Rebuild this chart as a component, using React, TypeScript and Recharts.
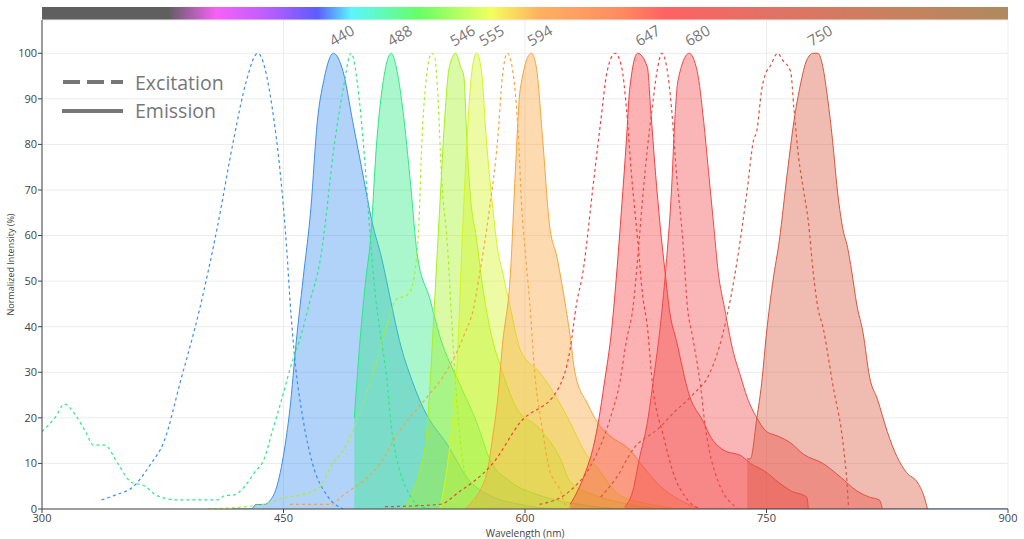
import React from 'react';
import { ComposedChart, Area, Line, Scatter, XAxis, YAxis, CartesianGrid } from 'recharts';

type Pt = [number, number];

// excitation (dashed) and emission (filled) spectra, [wavelength nm, % intensity]
const ex440: Pt[] = [[337, 2], [345, 3], [357, 5], [367, 9.6], [376, 15], [386, 28], [398, 44], [409, 62], [419, 81], [427, 94], [434, 100], [443, 88], [450, 66], [452, 57], [454, 46], [457, 33], [462, 20], [468, 10], [477, 3], [487, 0]];
const em440: Pt[] = [[418, 0], [430, 0], [433, 1], [438, 1], [442, 2], [445, 4], [448, 8], [451, 14], [454, 22], [458, 37], [462, 50], [467, 66], [471, 85], [475, 94], [481, 100], [487, 96], [493, 85], [499, 74], [505, 63], [511, 55], [517, 45], [522, 37], [530, 28], [537, 22], [552, 14], [566, 6], [578, 3], [597, 1], [620, 0], [900, 0]];

const ex488: Pt[] = [[300, 17], [308, 20], [314, 23], [320, 21], [327, 17], [332, 14], [339, 14], [347, 10], [355, 6], [364, 5], [371, 3], [384, 2], [409, 2], [414, 3], [418, 3], [426, 5], [432, 8], [438, 11], [443, 17], [448, 23], [456, 33], [460, 37], [466, 45], [473, 55], [482, 81], [487, 92], [492, 100], [497, 90], [501, 74], [504, 59], [507, 47], [510, 39], [514, 29], [517, 18], [521, 10], [527, 4], [533, 1], [541, 0]];
const em488: Pt[] = [[494, 20], [498, 39], [501, 50], [504, 59], [508, 81], [512, 94], [517, 100], [520, 97], [524, 88], [529, 71], [533, 56], [541, 46], [547, 38], [560, 27], [570, 19], [578, 11], [591, 6], [609, 3], [634, 1], [659, 0]];

const ex546: Pt[] = [[403, 0], [437, 1], [452, 2.6], [460, 3], [473, 5], [479, 9], [489, 14], [504, 28], [514, 40], [520, 46], [527, 47], [530, 49], [534, 62], [536, 81], [538, 92], [542, 100], [544, 99], [546, 90], [548, 74], [552, 57], [555, 38], [558, 22], [562, 9], [566, 3], [572, 1], [578, 0]];
const em546: Pt[] = [[524, 0], [530, 3.5], [535, 9], [539, 17], [541, 27], [543, 40], [547, 66], [550, 85], [553, 97], [557, 100], [560, 97], [562, 95], [564, 80], [566, 69], [570, 59], [574, 48], [578, 40], [586, 30], [595, 22], [608, 18], [622, 11], [628, 6], [647, 2.6], [665, 1], [684, 0]];

const em555: Pt[] = [[547, 0], [553, 13], [558, 33], [561, 59], [564, 81], [567, 96], [570, 100], [573, 96], [576, 81], [580, 66], [583, 57], [586, 52], [591, 44], [597, 35], [609, 30], [617, 26], [628, 19], [638, 12], [645, 9], [659, 3], [678, 1], [696, 0]];

const ex594: Pt[] = [[454, 1], [479, 1], [487, 3], [512, 11], [520, 16], [539, 24.5], [549, 29], [562, 38], [568, 44], [572, 52], [578, 66], [583, 81], [586, 95], [589, 100], [592, 97], [596, 81], [598, 66], [600, 57], [603, 45], [606, 30], [611, 17], [615, 9], [622, 4], [625, 1], [631, 0]];
const em594: Pt[] = [[563, 0], [568, 2], [572, 4], [577, 9], [580, 16], [583, 24], [586, 36], [591, 52], [594, 74], [597, 92], [604, 100], [607, 97], [611, 81], [615, 63], [620, 55], [625, 45], [628, 38], [631, 30], [639, 23], [645, 19], [653, 16], [665, 13], [674, 9], [684, 5], [696, 2], [709, 0]];

const ex647: Pt[] = [[513, 0.5], [547, 1], [560, 4], [568, 6], [580, 10], [597, 19], [620, 26], [628, 35], [632, 45], [636, 52], [642, 70], [647, 85], [651, 96], [656, 100], [660, 97], [663, 88], [666, 74], [670, 59], [673, 47], [676, 40], [679, 28], [686, 16], [692, 8], [701, 2], [709, 0]];
const em647: Pt[] = [[628, 1], [632, 3.5], [638, 8.5], [642, 13], [646, 20], [649, 27], [654, 40], [657, 52], [660, 66], [663, 81], [665, 92], [670, 100], [676, 97], [678, 88], [681, 74], [684, 62], [687, 52], [690, 43], [694, 37], [702, 25], [711, 19], [715, 16], [723, 13], [735, 11.5], [740, 10], [748, 8.5], [758, 5.7], [765, 4], [775, 2.6], [776, 0]];

const ex680: Pt[] = [[609, 1], [628, 4], [640, 9], [653, 20], [659, 28], [663, 37], [667, 44], [670, 55], [673, 68], [676, 79], [679, 88], [682, 96], [685, 100], [688, 97], [691, 88], [694, 74], [698, 59], [701, 44], [704, 38], [709, 27], [712, 18], [715, 12], [719, 7], [724, 3], [729, 1], [732, 0]];
const em680: Pt[] = [[662, 0.5], [667, 4], [671, 11], [676, 19], [680, 29], [684, 40], [688, 55], [691, 70], [693, 85], [695, 94], [702, 100], [707, 96], [711, 85], [714, 74], [717, 63], [720, 52], [724, 44], [729, 35], [734, 29], [738, 24.5], [744, 20], [750, 17], [757, 16], [765, 14.5], [773, 12], [785, 10], [796, 7], [806, 4], [814, 2.6], [820, 2], [822, 0]];

const ex750: Pt[] = [[647, 2.6], [657, 7], [667, 13], [684, 18], [692, 21], [704, 25], [715, 30], [723, 38.6], [732, 55], [738, 70], [742, 81], [744, 83], [747, 92], [750, 96], [752, 97], [757, 100], [760, 98.5], [765, 96], [767, 88], [770, 77], [773, 70], [776, 63], [779, 52], [782, 44], [785, 40], [791, 27.6], [798, 13], [800, 5.7], [801, 0]];
const em750: Pt[] = [[738, 11], [740, 11], [744, 20], [747, 27.6], [750, 38.6], [754, 50], [758, 59], [763, 74], [767, 85], [771, 93], [775, 98.5], [779, 100], [782, 100], [785, 97], [788, 90], [791, 81], [794, 70], [798, 60.5], [800, 58], [803, 52], [806, 45], [810, 38.6], [814, 29], [819, 24], [825, 17], [831, 11.5], [837, 8], [844, 5.7], [848, 2.6], [850, 0]];

const dyeNames = ['440', '488', '546', '555', '594', '647', '680', '750'];
const dyeColors = ['#3d8ef0', '#2aeb82', '#a6f21e', '#d4f51e', '#fca33a', '#f73e3e', '#f24848', '#d9553c'];
const excitations: (Pt[] | null)[] = [ex440, ex488, ex546, null, ex594, ex647, ex680, ex750];
const emissions: Pt[][] = [em440, em488, em546, em555, em594, em647, em680, em750];
// where the rotated dye names sit above the peaks
const labelWavelengths = [486, 522, 561, 579, 609, 676, 707, 783];

const xTicks = [300, 450, 600, 750, 900];
const yTicks = [0, 10, 20, 30, 40, 50, 60, 70, 80, 90, 100];

const toRows = (pts: Pt[]) => pts.map(([x, y]) => ({ x, y }));
const labelRows = dyeNames.map((label, i) => ({ x: labelWavelengths[i], y: 104, label }));

const font = '"Open Sans", sans-serif';
const tickStyle = { fill: '#444', fontSize: 11, fontFamily: font };

const PeakLabel = (props: any) => {
  const { cx, cy, payload } = props;
  return (
    <text x={cx} y={cy} transform={`rotate(-30 ${cx} ${cy})`} textAnchor="middle" dominantBaseline="central"
      fontSize={15} fill="#777" fontFamily={font}>
      {payload.label}
    </text>
  );
};

const YTitle = (props: any) => {
  const { viewBox } = props;
  const x = 10;
  const y = viewBox.y + viewBox.height / 2;
  return (
    <text x={x} y={y} transform={`rotate(-90 ${x} ${y})`} textAnchor="middle" dominantBaseline="central"
      fontSize={9} fill="#444" fontFamily={font}>
      Normalized Intensity (%)
    </text>
  );
};

const spectrumBar =
  'linear-gradient(to right, #5f5f5f 0%, #5f5f5f 13%, #f760f7 18%, #c05eff 23%, #5c5cff 28.5%, #5cf5ff 32%, #66ff66 39%, #f2ff5c 46.5%, #ffb060 51.5%, #ff8a60 60%, #ff6262 64.5%, #e07264 76%, #c8805e 88%, #b08a5e 100%)';

const App: React.FC = () => {
  return (
    <div style={{ position: 'fixed', left: 0, top: 0, width: 1024, height: 539, background: '#fff', fontFamily: font }}>
      <div style={{ position: 'absolute', left: 42, top: 7, width: 966, height: 13, background: spectrumBar }} />
      <ComposedChart width={1024} height={539} margin={{ top: 20, right: 16, bottom: 0, left: 0 }}>
        <CartesianGrid stroke="#ececec" />
        <XAxis
          type="number"
          dataKey="x"
          domain={[300, 900]}
          ticks={xTicks}
          allowDataOverflow
          height={30}
          tick={tickStyle}
          tickSize={4}
          tickMargin={1}
          axisLine={{ stroke: '#444' }}
          tickLine={{ stroke: '#444' }}
          label={{ value: 'Wavelength (nm)', position: 'insideBottom', offset: 2, fontSize: 10, fill: '#444', fontFamily: font }}
        />
        <YAxis
          type="number"
          dataKey="y"
          domain={[0, 107.3]}
          ticks={yTicks}
          allowDataOverflow
          width={42}
          tick={tickStyle}
          tickSize={4}
          tickMargin={1}
          axisLine={{ stroke: '#444' }}
          tickLine={{ stroke: '#444' }}
          label={<YTitle />}
        />
        {emissions.map((em, i) => (
          <Area
            key={`em-${dyeNames[i]}`}
            data={toRows(em)}
            dataKey="y"
            type="monotone"
            stroke={dyeColors[i]}
            strokeWidth={1}
            fill={dyeColors[i]}
            fillOpacity={0.4}
            dot={false}
            activeDot={false}
            isAnimationActive={false}
          />
        ))}
        {excitations.map((ex, i) =>
          ex ? (
            <Line
              key={`ex-${dyeNames[i]}`}
              data={toRows(ex)}
              dataKey="y"
              type="monotone"
              stroke={dyeColors[i]}
              strokeWidth={1.2}
              strokeDasharray="3 3"
              dot={false}
              activeDot={false}
              isAnimationActive={false}
            />
          ) : null
        )}
        <Scatter data={labelRows} dataKey="y" shape={<PeakLabel />} isAnimationActive={false} />
      </ComposedChart>
      <svg style={{ position: 'absolute', left: 0, top: 0, pointerEvents: 'none' }} width={260} height={130}>
        <line x1={63} y1={82} x2={123} y2={82} stroke="#777" strokeWidth={4} strokeDasharray="17 7" />
        <line x1={62} y1={111} x2={123} y2={111} stroke="#777" strokeWidth={4} />
        <text x={135} y={82} dominantBaseline="central" fontSize={19.5} fill="#777" fontFamily={font}>Excitation</text>
        <text x={135} y={110} dominantBaseline="central" fontSize={19.5} fill="#777" fontFamily={font}>Emission</text>
      </svg>
    </div>
  );
};

export default App;
